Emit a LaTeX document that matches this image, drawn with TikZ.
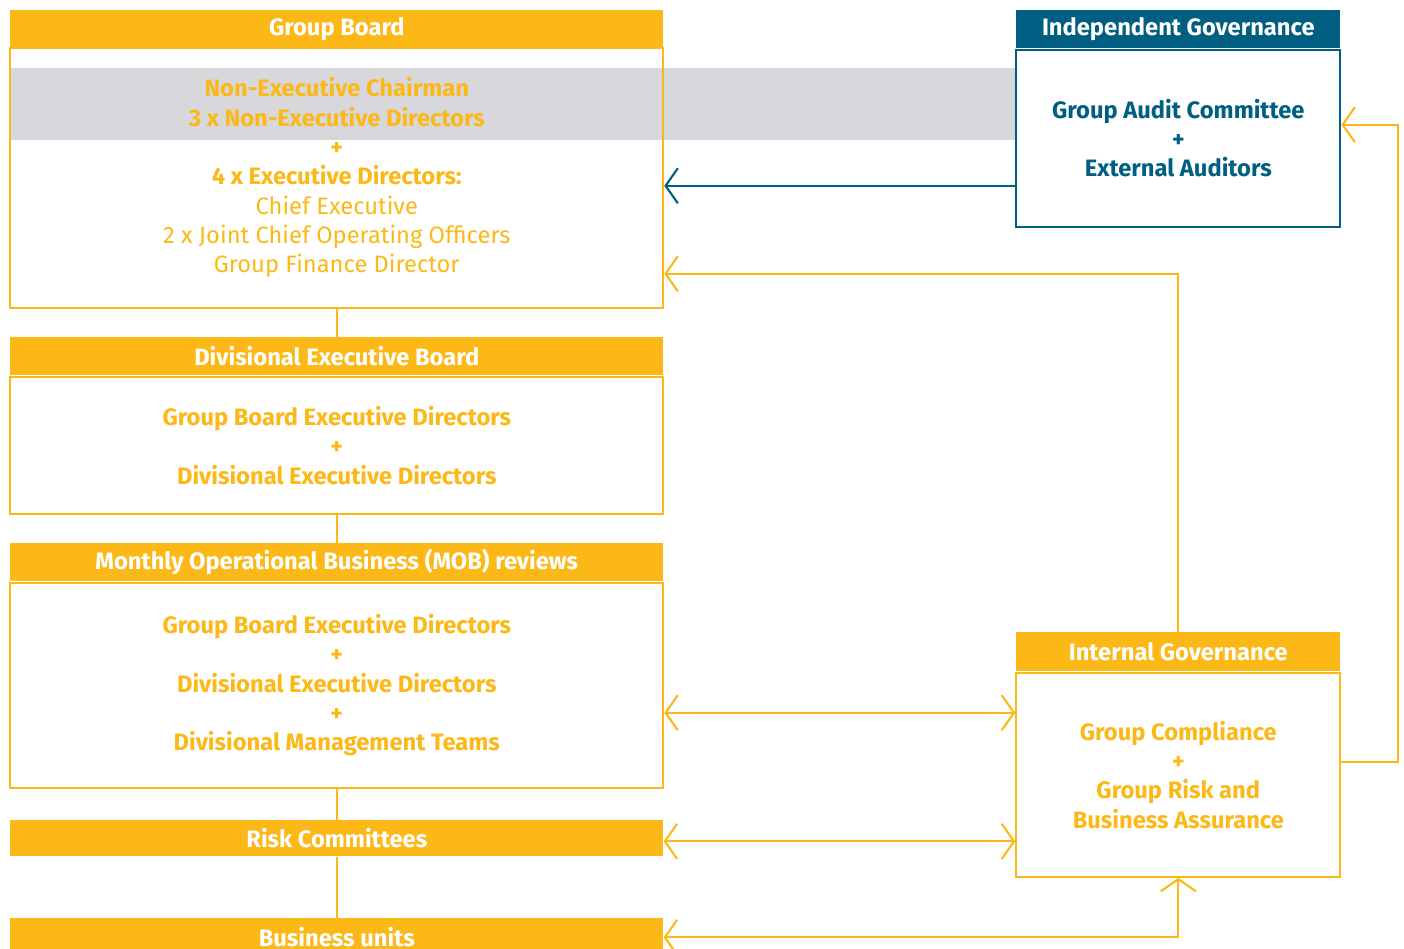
\documentclass[tikz,border=0pt]{standalone}
\usepackage{fontspec}
\setmainfont{Fira Sans}
\usetikzlibrary{arrows.meta,positioning}

\definecolor{gold}{HTML}{FBB817}
\definecolor{govblue}{HTML}{005E82}
\definecolor{bandgrey}{HTML}{D8D8DC}

\tikzset{
    head/.style={fill=gold, text=white, inner sep=0pt, anchor=north west,
        minimum width=13.06cm, minimum height=0.76cm,
        font=\bfseries\fontsize{13.5}{16.7}\selectfont},
    body/.style={draw=gold, line width=1.2pt, inner sep=0pt, anchor=north,
        minimum width=13.06cm, align=center, text=gold,
        font=\fontsize{13.5}{16.7}\selectfont},
    link/.style={draw=gold, line width=1.2pt},
    tip/.style={-{Straight Barb[length=7pt,width=20pt]}},
    twoway/.style={{Straight Barb[length=7pt,width=20pt]}-{Straight Barb[length=7pt,width=20pt]}},
}

\begin{document}
\begin{tikzpicture}[x=0.02cm, y=-0.02cm]
    \useasboundingbox (0,0) rectangle (1404,948);
    % Grey band behind the non-executive members
    \fill[bandgrey] (10,68) rectangle (1016,140);

    % Left column: the reporting chain
    \node[head] (gbhead) at (10,10) {Group Board};
    \node[body, minimum height=5.2cm] (gbbody) at ([yshift=0.04cm]gbhead.south)
        {\bfseries Non-Executive Chairman\\
         \bfseries 3 x Non-Executive Directors\\
         \bfseries +\\
         \bfseries 4 x Executive Directors:\\
         Chief Executive\\
         2 x Joint Chief Operating Officers\\
         Group Finance Director};

    \node[head] (debhead) at (10,337) {Divisional Executive Board};
    \node[body, minimum height=2.74cm, font=\bfseries\fontsize{13.5}{16.7}\selectfont] (debbody) at (debhead.south)
        {Group Board Executive Directors\\ +\\ Divisional Executive Directors};

    \node[head] (mobhead) at (10,543) {Monthly Operational Business (MOB) reviews};
    \node[body, minimum height=4.1cm, font=\bfseries\fontsize{13.5}{16.7}\selectfont] (mobbody) at (mobhead.south)
        {Group Board Executive Directors\\ +\\ Divisional Executive Directors\\ +\\ Divisional Management Teams};

    \node[head, minimum height=0.72cm] (riskbar) at (10,820) {Risk Committees};
    \node[head] (unitbar) at (10,918) {Business units};

    % Right column: governance
    \node[head, fill=govblue, minimum width=6.48cm] (ighead) at (1016,10) {Independent Governance};
    \node[body, draw=govblue, text=govblue, fill=white, minimum width=6.48cm, minimum height=3.54cm,
        font=\bfseries\fontsize{13.5}{16.7}\selectfont] (igbody) at (ighead.south)
        {Group Audit Committee\\ +\\ External Auditors};

    \node[head, minimum width=6.48cm, minimum height=0.78cm] (inthead) at (1016,632) {Internal Governance};
    \node[body, minimum width=6.48cm, minimum height=4.08cm,
        font=\bfseries\fontsize{13.5}{16.7}\selectfont] (intbody) at (inthead.south)
        {Group Compliance\\ +\\ Group Risk and\\ Business Assurance};

    % Vertical links down the chain
    \foreach \a/\b in {gbbody/debhead, debbody/mobhead, mobbody/riskbar, riskbar/unitbar}
        \draw[link] (\a.south) -- (\b.north);

    % Arrows between the columns
    \coordinate (auditout) at ([yshift=0.84cm]igbody.south west);
    \draw[govblue, line width=1.2pt, tip] (auditout) -- (auditout -| gbbody.east);
    \draw[link, tip] (inthead.north) |- ([yshift=0.7cm]gbbody.south east);
    \draw[link, tip] ([yshift=0.26cm]intbody.east) -- ++(57,0) |- ([yshift=0.27cm]igbody.east);
    \draw[link, twoway] ([yshift=-0.55cm]mobbody.east) -- ([yshift=-0.55cm]mobbody.east -| intbody.west);
    \draw[link, twoway] ([yshift=-0.06cm]riskbar.east) -- ([yshift=-0.06cm]riskbar.east -| intbody.west);
    \draw[link, twoway] (unitbar.east) -| (intbody.south);
\end{tikzpicture}
\end{document}
